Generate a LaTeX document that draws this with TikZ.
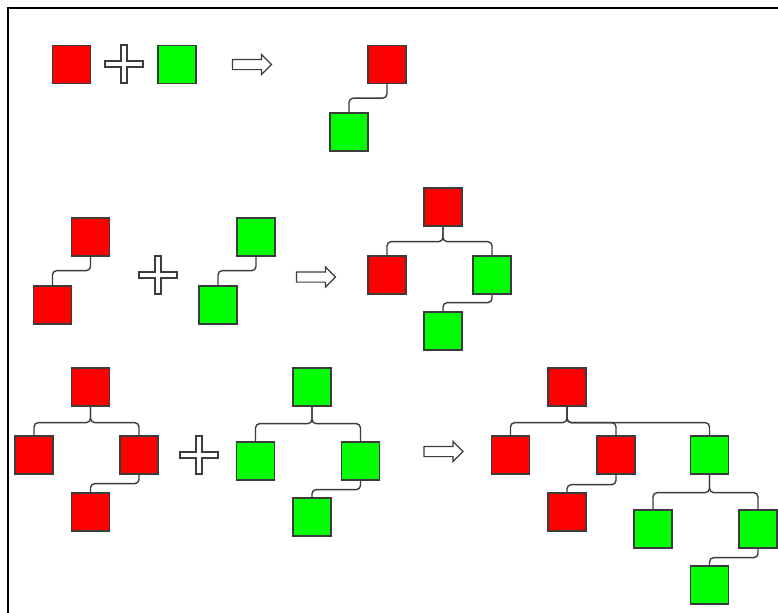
\documentclass[tikz,border=0pt]{standalone}
\usepackage{tikz}
\usetikzlibrary{positioning, shapes.arrows}
\definecolor{tRed}{HTML}{FF0000}
\definecolor{tGreen}{HTML}{00FF00}
\definecolor{tInk}{HTML}{3C3C3C}
\tikzset{
  box/.style={draw=tInk, line width=0.9pt, minimum size=0.95cm, inner sep=0pt},
  redbox/.style={box, fill=tRed},
  greenbox/.style={box, fill=tGreen},
  link/.style={draw=tInk, line width=1pt, rounded corners=3pt},
  gives/.style={single arrow, draw=tInk, fill=white, line width=0.85pt,
    minimum height=0.975cm, inner sep=0.1125cm, single arrow head extend=0.125cm},
  plussign/.pic={
    \draw[tInk, fill=white, line width=0.85pt]
      (-3,-19) -- (3,-19) -- (3,-3) -- (19,-3) -- (19,3) -- (3,3) -- (3,19)
      -- (-3,19) -- (-3,3) -- (-19,3) -- (-19,-3) -- (-3,-3) -- cycle;
  },
}

\begin{document}
\begin{tikzpicture}[x=0.025cm, y=-0.025cm]
  \useasboundingbox (0,0) rectangle (778,613);
  \draw[line width=0.9pt] (8,613) -- (8,8) -- (778,8);

  % first row
  \node[redbox] (r1a) at (71.5,64.5) {};
  \pic (pl1) at (124,64) {plussign};
  \node[greenbox] (r1b) at (177,64.5) {};
  \node[gives] (ar1) at (249.5,64.5) {};
  \node[redbox] (m1a) at (387,64.5) {};
  \node[greenbox] (m1b) at (349,132) {};
  \draw[link] (m1a.south) -- ++(0,14) -| (m1b.north);

  % second row
  \node[redbox] (r2a) at (90.5,237) {};
  \node[redbox] (r2b) at (52.5,305) {};
  \draw[link] (r2a.south) -- ++(0,14) -| (r2b.north);
  \pic (pl2) at (158,275) {plussign};
  \node[greenbox] (g2a) at (256,237) {};
  \node[greenbox] (g2b) at (218,305) {};
  \draw[link] (g2a.south) -- ++(0,14) -| (g2b.north);
  \node[gives] (ar2) at (313.5,277) {};
  \node[redbox] (m2a) at (443,207) {};
  \node[redbox] (m2b) at (387,275) {};
  \node[greenbox] (m2c) at (492,275) {};
  \node[greenbox] (m2d) at (443,331) {};
  \foreach \c in {m2b,m2c}
    \draw[link] (m2a.south) -- ++(0,15) -| (\c.north);
  \draw[link] (m2c.south) -- ++(0,8) -| (m2d.north);

  % third row
  \node[redbox] (r3a) at (90.5,387) {};
  \node[redbox] (r3b) at (34,455) {};
  \node[redbox] (r3c) at (139,455) {};
  \node[redbox] (r3d) at (90.5,512) {};
  \foreach \c in {r3b,r3c}
    \draw[link] (r3a.south) -- ++(0,16) -| (\c.north);
  \draw[link] (r3c.south) -- ++(0,9) -| (r3d.north);
  \pic (pl3) at (199,455) {plussign};
  \node[greenbox] (g3a) at (312,387) {};
  \node[greenbox] (g3b) at (255.5,461) {};
  \node[greenbox] (g3c) at (360.5,461) {};
  \node[greenbox] (g3d) at (312,517) {};
  \foreach \c in {g3b,g3c}
    \draw[link] (g3a.south) -- ++(0,17) -| (\c.north);
  \draw[link] (g3c.south) -- ++(0,9) -| (g3d.north);
  \node[gives] (ar3) at (441,451.5) {};
  \node[redbox] (m3a) at (567,387) {};
  \node[redbox] (m3b) at (510.5,455) {};
  \node[redbox] (m3c) at (616,455) {};
  \node[redbox] (m3d) at (567,512) {};
  \node[greenbox] (m3e) at (709.5,455) {};
  \node[greenbox] (m3f) at (653,529) {};
  \node[greenbox] (m3g) at (758,529) {};
  \node[greenbox] (m3h) at (709.5,585) {};
  \foreach \c in {m3b,m3c,m3e}
    \draw[link] (m3a.south) -- ++(0,16) -| (\c.north);
  \draw[link] (m3c.south) -- ++(0,10) -| (m3d.north);
  \foreach \c in {m3f,m3g}
    \draw[link] (m3e.south) -- ++(0,18) -| (\c.north);
  \draw[link] (m3g.south) -- ++(0,9) -| (m3h.north);
\end{tikzpicture}
\end{document}
